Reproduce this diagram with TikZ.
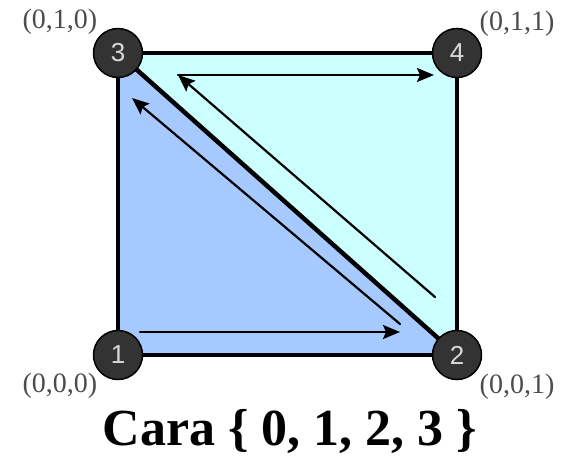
\documentclass[tikz,border=0pt]{standalone}
\usepackage{fontspec}
\setmainfont{Liberation Serif}
\setsansfont{Liberation Sans}
\usetikzlibrary{arrows.meta}
\definecolor{caraazul}{HTML}{A6CAFF}
\definecolor{caracian}{HTML}{CCFFFF}
\definecolor{vertgris}{HTML}{333333}
\tikzset{
  every picture/.style={line join=round, line cap=round, >=Stealth},
  vert/.style={circle, draw=black, line width=1.5pt, fill=vertgris, minimum size=49pt,
    inner sep=0pt, text=white!85!black, font=\sffamily\fontsize{26}{26}\selectfont},
  coord/.style={text=black!70, font=\fontsize{28}{28}\selectfont},
  lado/.style={line width=3.3pt},
  flecha/.style={line width=2.2pt, -{Stealth[length=17pt,width=14pt,inset=3pt]}},
}

\begin{document}
\begin{tikzpicture}[x=1pt,y=-1pt]
\useasboundingbox (0,0) rectangle (574,475);
% vertices
\coordinate (p1) at (118,355);
\coordinate (p2) at (457,355);
\coordinate (p3) at (118,53);
\coordinate (p4) at (457,53);
% caras
\fill[caraazul] (p1)--(p2)--(p3)--cycle;
\fill[caracian] (p3)--(p4)--(p2)--cycle;
\draw[lado] (p1)--(p2)--(p4)--(p3)--cycle;
\draw[line width=4.5pt] (p3)--(p2);
% recorrido
\coordinate (a0) at (140,332);
\coordinate (a1) at (400,332);
\coordinate (b0) at (400,324);
\coordinate (b1) at (132,98);
\coordinate (c0) at (435,297);
\coordinate (c1) at (178,75);
\coordinate (c2) at (434,75);
\draw[flecha] (a0)--(a1);
\draw[flecha] (b0)--(b1);
\draw[flecha] (c0)--(c1);
\draw[flecha] (c1)--(c2);
% nodos
\node[vert] (v1) at (p1) {1};
\node[vert] (v2) at (p2) {2};
\node[vert] (v3) at (p3) {3};
\node[vert] (v4) at (p4) {4};
\node[coord] (l1) at (60,386) {(0,0,0)};
\node[coord] (l2) at (517,387) {(0,0,1)};
\node[coord] (l3) at (60,22) {(0,1,0)};
\node[coord] (l4) at (517,24) {(0,1,1)};
\node[font=\bfseries\fontsize{52}{60}\selectfont, anchor=base] (titulo) at (290,445) {Cara \{ 0, 1, 2, 3 \}};
\end{tikzpicture}
\end{document}
